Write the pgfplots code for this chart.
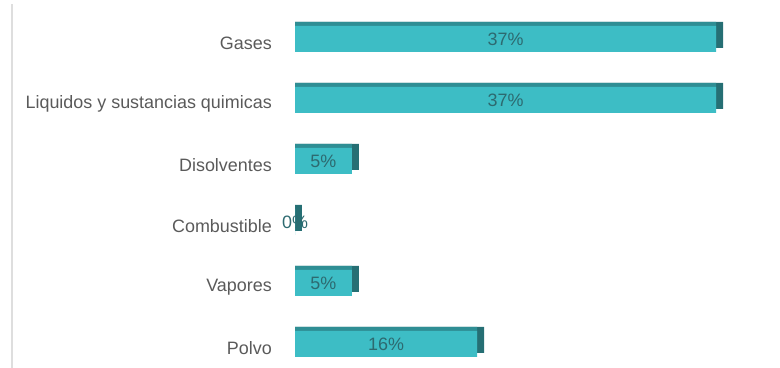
\documentclass[border=0pt]{standalone}
\usepackage{fontspec}
\setmainfont{Liberation Sans}
\usepackage{pgfplots}
\pgfplotsset{compat=1.18}
\usepackage{pgfplotstable}
\definecolor{front}{HTML}{3DBDC5}
\definecolor{topc}{HTML}{2F8E94}
\definecolor{side}{HTML}{266F74}
\definecolor{lab}{HTML}{5A5A5A}
\definecolor{val}{HTML}{2D6A70}
\pgfplotstableread{
y v
0 37
1 37
2 5
3 0
4 5
5 16
}\data
\begin{document}
\begin{tikzpicture}
\path[use as bounding box] (0,0) rectangle (780bp,368bp);
\draw[color=black!13, line width=2bp] (11.5bp,0) -- (11.5bp,364bp);
\begin{axis}[
 at={(295bp,359.5bp)}, anchor=north west,
 scale only axis, width=432.4bp, height=366bp,
 xmin=0, xmax=38, ymin=-0.5, ymax=5.5, y dir=reverse,
 axis line style={draw=none}, major tick length=0pt,
 xtick=\empty, ytick={0,...,5},
 yticklabels={Gases, Liquidos y sustancias quimicas, Disolventes, Combustible, Vapores, Polvo},
 yticklabel style={font=\fontsize{18}{21}\selectfont, text=lab, anchor=east, inner sep=0pt, xshift=-23bp, yshift=-4bp},
 /pgf/number format/assume math mode=true,
 clip=false,
]
\addplot[xbar, bar shift=0pt, bar width=26bp, fill=side, draw=none, yshift=4bp] table[x expr=\thisrow{v}+0.615, y=y]{\data};
\addplot[xbar, bar shift=0pt, bar width=26bp, fill=topc, draw=none, yshift=4bp] table[x=v, y=y]{\data};
\addplot[xbar, bar shift=0pt, bar width=26bp, fill=front, draw=none] table[x=v, y=y]{\data};
\addplot[only marks, mark=*, mark size=0pt, mark options={draw=none, fill=none},
 point meta=explicit,
 nodes near coords={\pgfmathprintnumber{\pgfplotspointmeta}\%},
 every node near coord/.style={font=\fontsize{18}{21}\selectfont, text=val, anchor=center, inner sep=0pt}]
 table[x expr=\thisrow{v}/2, y=y, meta=v]{\data};
\end{axis}
\end{tikzpicture}
\end{document}
